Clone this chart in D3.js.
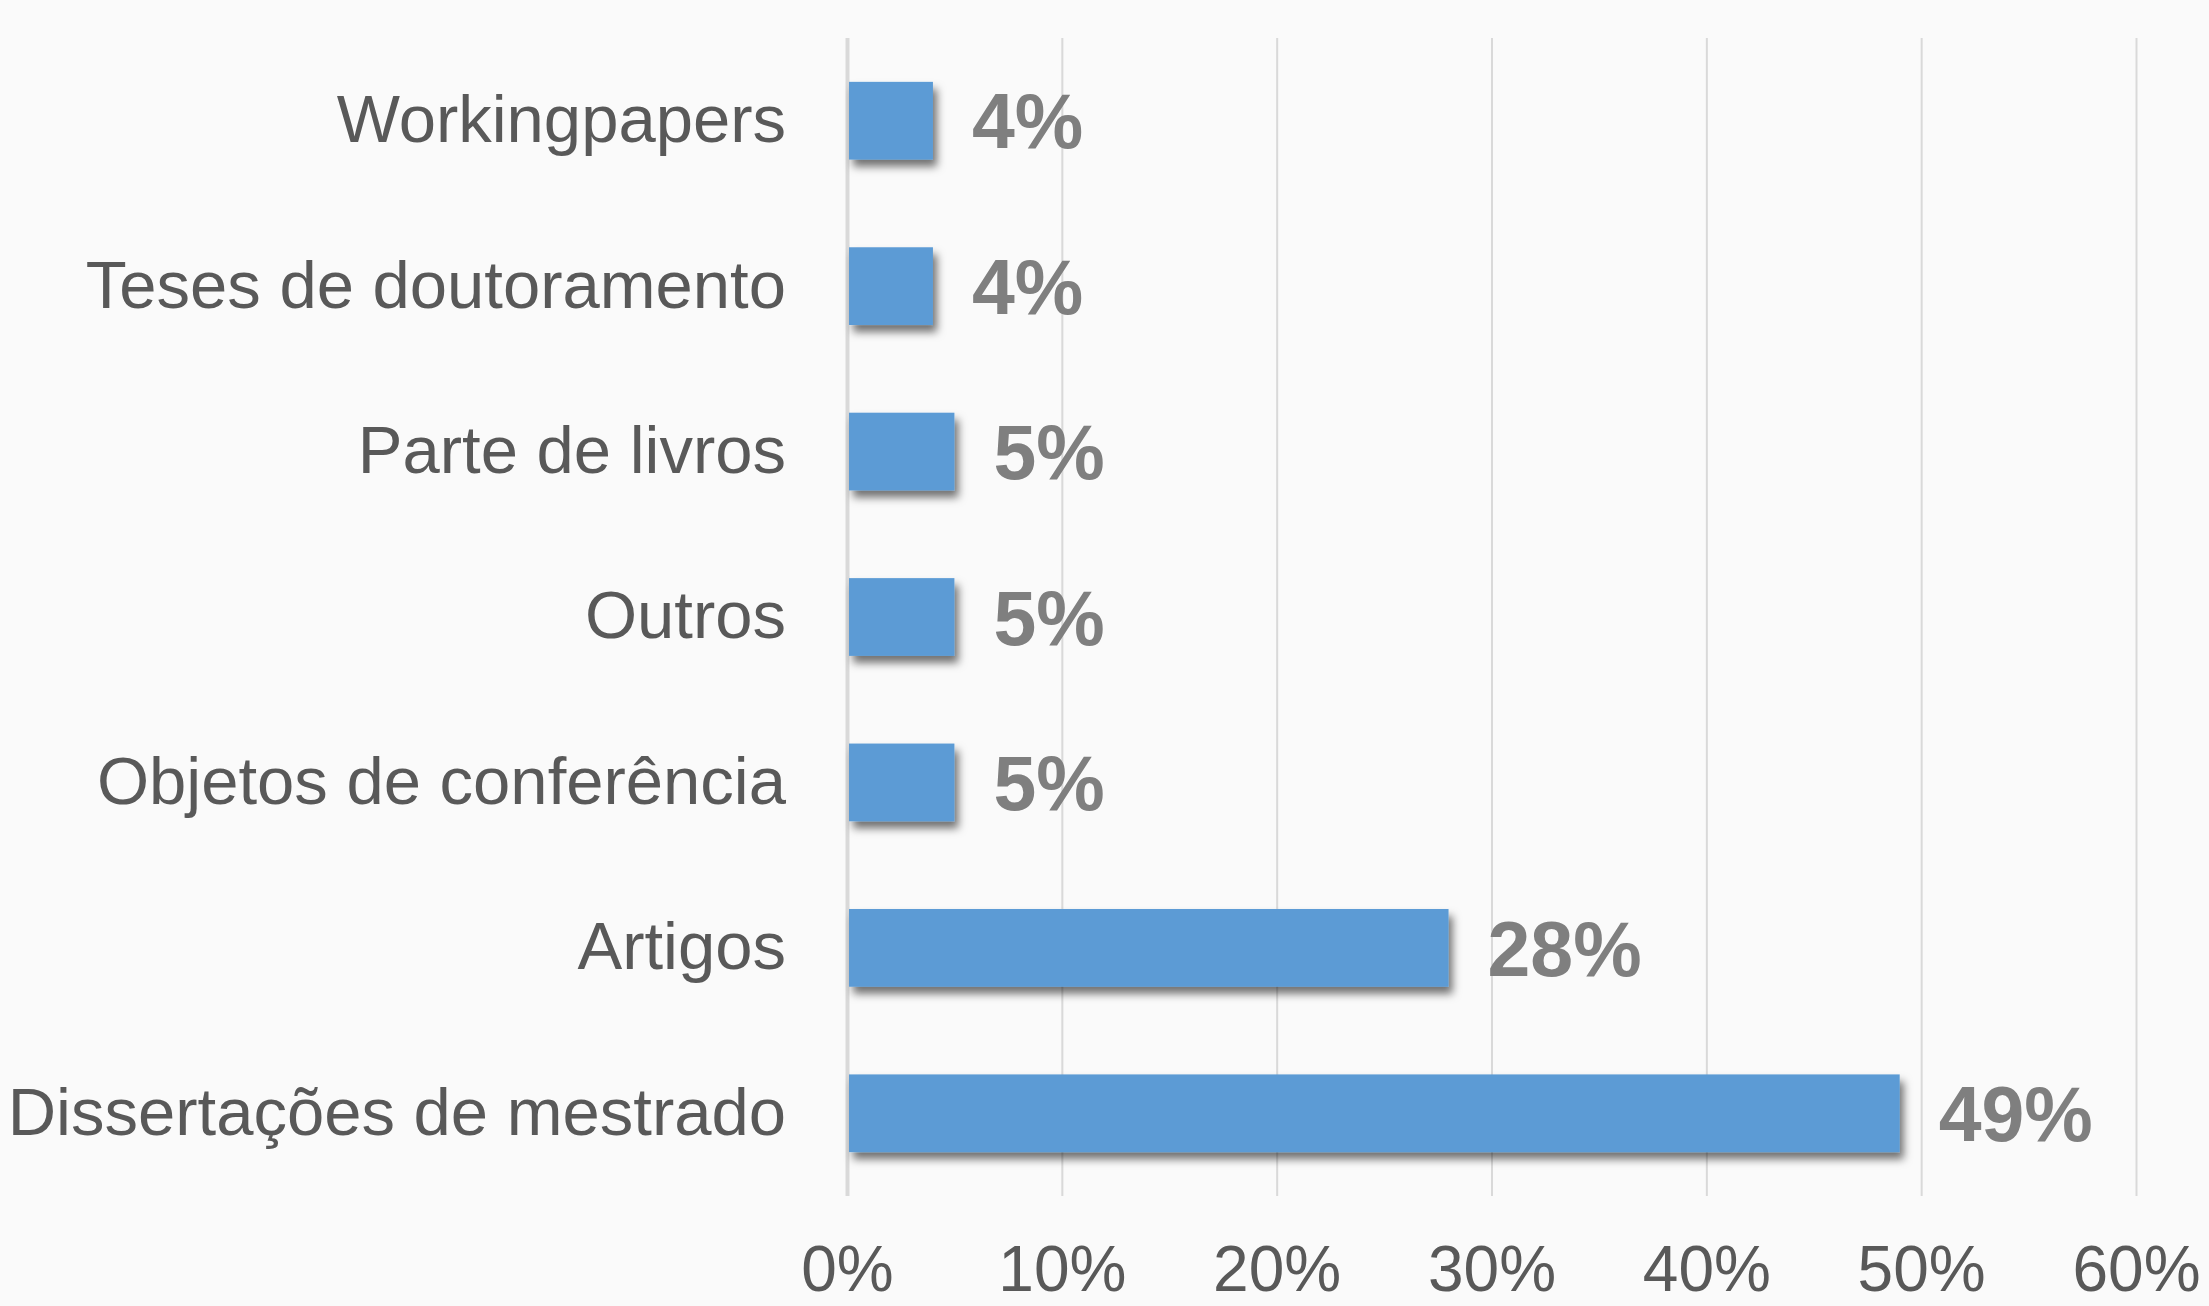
<!DOCTYPE html>
<html>
<head>
<meta charset="utf-8">
<script src="https://cdn.jsdelivr.net/npm/d3@7"></script>
<style>
  body { margin: 0; background: #fafafa; }
  svg { display: block; }
</style>
</head>
<body>
<div id="chart"></div>
<script>
// data (top to bottom)
var categories = ['Workingpapers', 'Teses de doutoramento', 'Parte de livros', 'Outros',
                  'Objetos de conferência', 'Artigos', 'Dissertações de mestrado'];
var shares = [4, 4, 5, 5, 5, 28, 49];
var tickValues = [0, 10, 20, 30, 40, 50, 60];

var W = 2209, H = 1306;
var margin = { top: 38, right: 73, bottom: 110, left: 847 };
var width = W - margin.left - margin.right,
    height = H - margin.top - margin.bottom;

var svg = d3.select('#chart').append('svg')
    .attr('width', W)
    .attr('height', H)
    .style('background', '#fafafa');

// soft shadow under the bars
var f = svg.append('defs').append('filter')
    .attr('id', 'shadow')
    .attr('x', '-10%').attr('y', '-30%')
    .attr('width', '130%').attr('height', '180%');
f.append('feDropShadow')
    .attr('dx', 4).attr('dy', 7)
    .attr('stdDeviation', 4)
    .attr('flood-color', '#000')
    .attr('flood-opacity', 0.55);

var g = svg.append('g').attr('transform', 'translate(' + margin.left + ',' + margin.top + ')');

var x = d3.scaleLinear().domain([0, 60]).range([0, width]);
var y = d3.scaleBand()
    .domain(categories)
    .range([0, height])
    .paddingInner(0.53)
    .paddingOuter(0.265);

// gridlines + tick labels
var xAxis = g.append('g')
    .attr('transform', 'translate(0,' + height + ')')
    .call(d3.axisBottom(x)
        .tickValues(tickValues)
        .tickSize(-height)
        .tickPadding(0)
        .tickFormat(function(d) { return d + '%'; }));
xAxis.select('.domain').remove();
xAxis.selectAll('.tick line')
    .attr('stroke', '#d9d9d9')
    .attr('stroke-width', function(d) { return d === 0 ? 4 : 2; });
xAxis.selectAll('.tick text')
    .attr('y', 73)
    .attr('dy', '0.35em')
    .attr('fill', '#595959')
    .style('font-family', '"Liberation Sans", Arial, sans-serif')
    .style('font-size', '64px');

// category labels
var yAxis = g.append('g')
    .call(d3.axisLeft(y).tickSize(0).tickPadding(61));
yAxis.select('.domain').remove();
yAxis.selectAll('.tick text')
    .attr('fill', '#595959')
    .style('font-family', '"Liberation Sans", Arial, sans-serif')
    .style('font-size', '67px');

// bars
g.selectAll('.bar')
    .data(shares)
    .enter()
    .append('rect')
    .attr('class', 'bar')
    .attr('x', x(0) + 2)
    .attr('y', function(d, i) { return y(categories[i]); })
    .attr('width', function(d) { return x(d) - x(0) - 2; })
    .attr('height', y.bandwidth())
    .attr('fill', '#5b9bd5')
    .attr('filter', 'url(#shadow)');

// value labels
g.selectAll('.val')
    .data(shares)
    .enter()
    .append('text')
    .attr('class', 'val')
    .attr('x', function(d) { return x(d) + 39; })
    .attr('y', function(d, i) { return y(categories[i]) + y.bandwidth() / 2; })
    .attr('dy', '0.36em')
    .attr('fill', '#7f7f7f')
    .style('font-family', '"Liberation Sans", Arial, sans-serif')
    .style('font-weight', 'bold')
    .style('font-size', '77px')
    .text(function(d) { return d + '%'; });
</script>
</body>
</html>
